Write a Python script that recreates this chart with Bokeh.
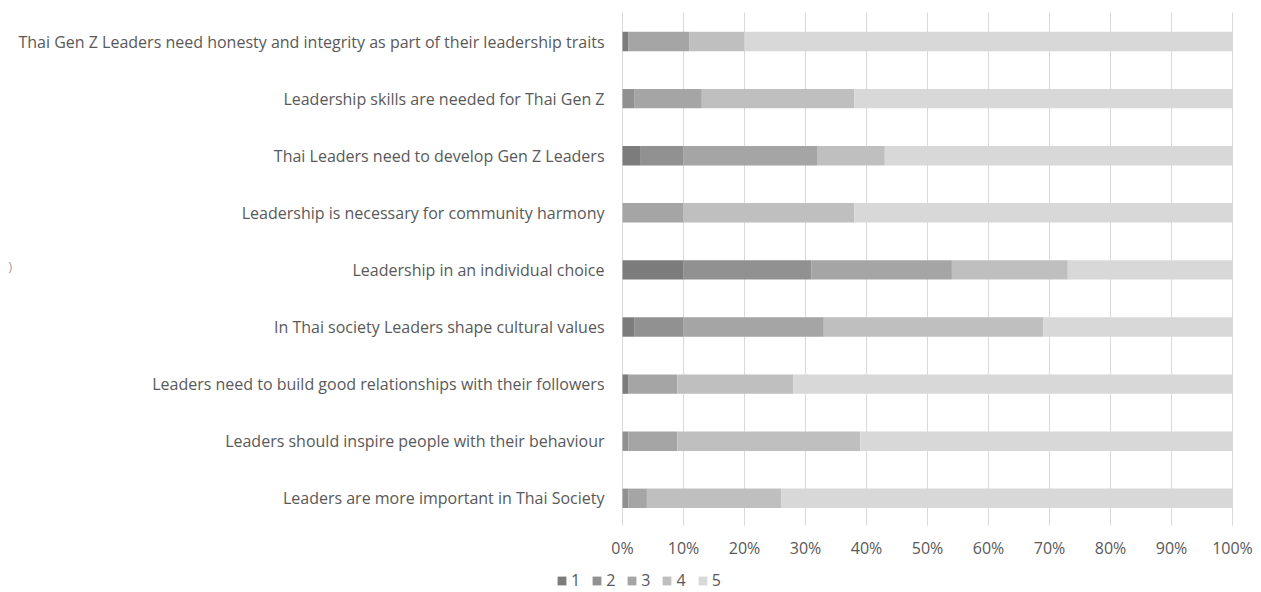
from bokeh.plotting import figure
from bokeh.models import ColumnDataSource, Range1d, Legend, LegendItem, Label
from bokeh.core.properties import value
from bokeh.embed import file_html
from bokeh.resources import INLINE

statements = [
    "Thai Gen Z Leaders need honesty and integrity as part of their leadership traits",
    "Leadership skills are needed for Thai Gen Z",
    "Thai Leaders need to develop Gen Z Leaders",
    "Leadership is necessary for community harmony",
    "Leadership in an individual choice",
    "In Thai society Leaders shape cultural values",
    "Leaders need to build good relationships with their followers",
    "Leaders should inspire people with their behaviour",
    "Leaders are more important in Thai Society",
]
s1 = [1, 0, 3, 0, 10, 2, 1, 0, 0]
s2 = [0, 2, 7, 0, 21, 8, 0, 1, 1]
s3 = [10, 11, 22, 10, 23, 23, 8, 8, 3]
s4 = [9, 25, 11, 28, 19, 36, 19, 30, 22]
s5 = [80, 62, 57, 62, 27, 31, 72, 61, 74]
levels = ["1", "2", "3", "4", "5"]
ticks = [0, 10, 20, 30, 40, 50, 60, 70, 80, 90, 100]
tick_labels = ["0%", "10%", "20%", "30%", "40%", "50%", "60%", "70%", "80%", "90%", "100%"]

colors = ["#7c7c7c", "#919191", "#a5a5a5", "#bfbfbf", "#d8d8d8"]
font = "Open Sans"
txt = "#595959"

# layout (pixels)
W, H = 1261, 592
left_px, right_px = 622, 1232
pct_px = (right_px - left_px) / 100.0
row0_px, row_px = 41.0, 57.1


def ypx(py):
    return (py - row0_px) / row_px


rows = list(range(len(statements)))
source = ColumnDataSource(dict(row=rows, cat=statements, s1=s1, s2=s2, s3=s3, s4=s4, s5=s5))

p = figure(width=W, height=H, output_backend="svg", toolbar_location=None,
           x_range=Range1d(-left_px / pct_px, 100 + (W - right_px) / pct_px),
           y_range=Range1d(ypx(H), ypx(0)),
           x_axis_location=None, y_axis_location=None,
           min_border_left=0, min_border_right=0, min_border_top=0, min_border_bottom=0)
p.outline_line_color = None
p.background_fill_color = "white"
p.border_fill_color = "white"
p.xgrid.grid_line_color = None
p.ygrid.grid_line_color = None

# vertical gridlines at tick positions
p.segment(x0=ticks, x1=ticks, y0=ypx(12), y1=ypx(525), line_color="#d9d9d9", line_width=1)

renderers = p.hbar_stack(["s1", "s2", "s3", "s4", "s5"], y="row", height=0.34,
                         color=colors, line_color=None, source=source)

# category labels
p.text(x=0, y="row", text="cat", source=source, x_offset=-18,
       text_align="right", text_baseline="middle",
       text_font=value(font), text_font_size="16px", text_color=txt)

# x tick labels
p.text(x=ticks, y=ypx(547), text=tick_labels, text_align="center", text_baseline="middle",
       text_font=value(font), text_font_size="16px", text_color=txt)

legend = Legend(items=[LegendItem(label=l, renderers=[r]) for l, r in zip(levels, renderers)],
                orientation="horizontal", location=(556, H - 591),
                glyph_width=11, glyph_height=11, label_standoff=4, spacing=11,
                label_width=9, label_height=16,
                label_text_font=font, label_text_font_size="16px", label_text_color=txt,
                border_line_color=None, background_fill_alpha=0, padding=0, margin=0)
p.add_layout(legend, "center")

p.add_layout(Label(x=(8 - left_px) / pct_px, y=ypx(266), text=")", text_font=font, text_font_size="12px",
                   text_color="#9a9a9a", text_baseline="middle", text_align="left"))

open("out.html", "w").write(file_html(p, INLINE))
